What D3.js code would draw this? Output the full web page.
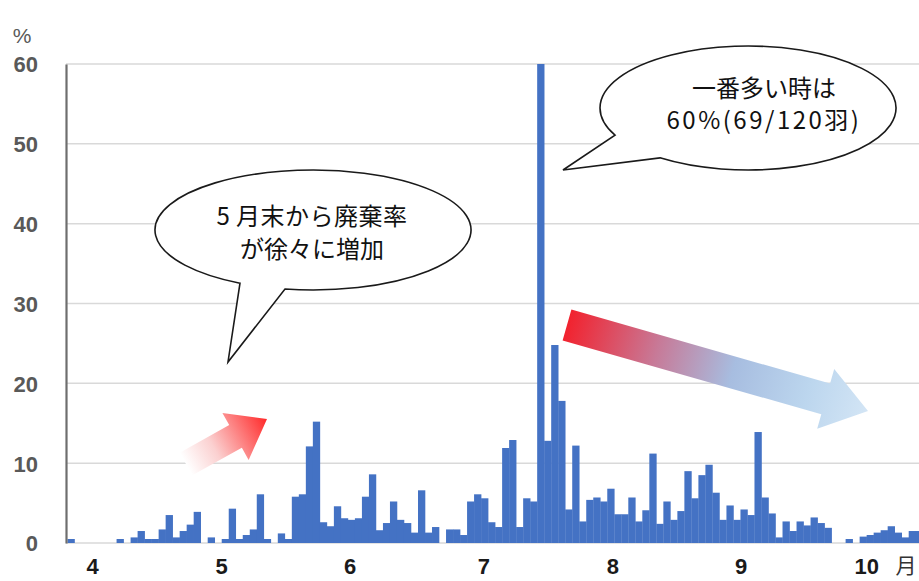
<!DOCTYPE html>
<html>
<head>
<meta charset="utf-8">
<script src="https://cdn.jsdelivr.net/npm/d3@7"></script>
<style>
  html, body { margin: 0; padding: 0; background: #fff; }
  svg { display: block; }
</style>
</head>
<body>
<svg id="chart" width="919" height="581"></svg>
<script>
// Daily disposal rate (%) from April to October
const rates = [
  0.5, 0, 0, 0, 0, 0, 0, 0.5, 0, 0.7,
  1.5, 0.5, 0.5, 1.7, 3.5, 0.7, 1.5, 2.3, 3.9, 0,
  0.7, 0, 0.5, 4.3, 0.5, 1.0, 1.7, 6.1, 0.5, 0,
  1.2, 0.5, 5.8, 6.1, 12.1, 15.2, 2.6, 2.1, 4.6, 3.1,
  2.9, 3.1, 5.8, 8.6, 1.6, 2.5, 5.2, 2.9, 2.5, 1.3,
  6.6, 1.3, 2.0, 0, 1.7, 1.7, 1.0, 5.2, 6.1, 5.6,
  2.6, 2.0, 11.9, 12.9, 2.0, 5.6, 5.2, 60, 12.8, 24.8,
  17.8, 4.2, 12.2, 2.7, 5.4, 5.7, 5.2, 6.8, 3.6, 3.6,
  5.7, 2.7, 4.1, 11.2, 2.4, 5.2, 2.9, 4.0, 9.0, 5.6,
  8.5, 9.8, 6.3, 2.9, 4.7, 2.9, 4.2, 3.5, 13.9, 5.7,
  3.7, 0.7, 2.7, 1.5, 2.7, 2.2, 3.2, 2.5, 1.9, 0,
  0, 0.5, 0, 0.8, 1.0, 1.3, 1.6, 2.1, 1.3, 0.7,
  1.5, 1.5
];

// Month labels and the bar position each one sits under
const monthLabels = ["4", "5", "6", "7", "8", "9", "10"];
const monthPositions = [3.1, 21.5, 39.8, 58.9, 77.3, 95.6, 113.5];

const yTicks = [0, 10, 20, 30, 40, 50, 60];

// Callout texts
const noteLeft = ["5 月末から廃棄率", "が徐々に増加"];
const notePeak = ["一番多い時は", "60%(69/120羽)"];

const svg = d3.select("#chart");
const W = 919, H = 581;
const plotLeft = 66, plotTop = 64, plotBottom = 543;
const barW = 7.01, barStart = 67.5;

const x = d3.scaleLinear()
  .domain([0, rates.length])
  .range([barStart, barStart + rates.length * barW]);
const y = d3.scaleLinear().domain([0, 60]).range([plotBottom, plotTop]);

const defs = svg.append("defs");

// Grid lines
svg.append("g")
  .selectAll("line")
  .data(yTicks)
  .join("line")
  .attr("x1", plotLeft).attr("x2", W)
  .attr("y1", d => y(d)).attr("y2", d => y(d))
  .attr("stroke", "#d9d9d9")
  .attr("stroke-width", 1.5);

// Bars
svg.append("g")
  .selectAll("rect")
  .data(rates)
  .join("rect")
  .attr("x", (d, i) => x(i))
  .attr("width", (d, i) => x(i + 1) - x(i) + 0.3)
  .attr("y", d => y(d))
  .attr("height", d => y(0) - y(d))
  .attr("fill", "#4472c4");

// Y axis
const yAxis = d3.axisLeft(y).tickValues(yTicks).tickSize(0).tickPadding(0);
const gy = svg.append("g").attr("transform", `translate(${plotLeft},0)`).call(yAxis);
gy.select(".domain").attr("stroke", "#6e6e6e").attr("stroke-width", 2.2);
gy.selectAll("text")
  .attr("x", -28)
  .attr("dy", "0.36em")
  .attr("font-family", "Liberation Sans, Arial, sans-serif")
  .attr("font-size", 22)
  .attr("font-weight", "bold")
  .attr("fill", "#595959");

svg.append("text")
  .attr("x", 22).attr("y", 43)
  .attr("text-anchor", "middle")
  .attr("font-family", "Liberation Sans, Arial, sans-serif")
  .attr("font-size", 21)
  .attr("fill", "#595959")
  .text("%");

// Month labels
svg.append("g")
  .selectAll("text")
  .data(monthLabels)
  .join("text")
  .attr("x", (d, i) => x(monthPositions[i] + 0.5))
  .attr("y", 574)
  .attr("text-anchor", "middle")
  .attr("font-family", "Liberation Sans, Arial, sans-serif")
  .attr("font-size", 22)
  .attr("font-weight", "bold")
  .attr("fill", "#1a1a1a")
  .text(d => d);

svg.append("text")
  .attr("x", 906).attr("y", 573)
  .attr("text-anchor", "middle")
  .attr("font-family", "Noto Sans CJK JP, sans-serif")
  .attr("font-size", 21)
  .attr("fill", "#333")
  .text("月");

// Block arrow shape, drawn along +x then rotated into place
function arrowPath(len, bodyHalf, headHalf, headLen) {
  const b = len - headLen;
  return `M0,${-bodyHalf} L${b},${-bodyHalf} L${b},${-headHalf} L${len},0 L${b},${headHalf} L${b},${bodyHalf} L0,${bodyHalf} Z`;
}
function drawArrow(id, from, to, bodyHalf, headHalf, headLen, stops) {
  const dx = to[0] - from[0], dy = to[1] - from[1];
  const len = Math.hypot(dx, dy);
  const ang = Math.atan2(dy, dx) * 180 / Math.PI;
  const g = defs.append("linearGradient").attr("id", id)
    .attr("gradientUnits", "userSpaceOnUse")
    .attr("x1", 0).attr("y1", 0).attr("x2", len).attr("y2", 0);
  stops.forEach(s => g.append("stop").attr("offset", s[0]).attr("stop-color", s[1]));
  svg.append("path")
    .attr("transform", `translate(${from[0]},${from[1]}) rotate(${ang})`)
    .attr("d", arrowPath(len, bodyHalf, headHalf, headLen))
    .attr("fill", `url(#${id})`);
}

drawArrow("gradUp", [186, 464], [267, 419], 13, 27, 36,
  [[0, "#ffffff"], [0.35, "#fbd0d0"], [1, "#ff2a2a"]]);

drawArrow("gradDown", [567, 325], [868, 411], 16, 31, 44,
  [[0, "#f2222e"], [0.3, "#c77a98"], [0.55, "#a7bde0"], [0.8, "#bcd6ee"], [1, "#d3e5f5"]]);

// Speech bubbles: ellipse with a pointed tail
function bubble(cx, cy, rx, ry, ax, bx, tip) {
  const ay = cy + ry * Math.sqrt(1 - ((ax - cx) / rx) ** 2);
  const by = cy + ry * Math.sqrt(1 - ((bx - cx) / rx) ** 2);
  const d = `M${ax},${ay} A${rx},${ry} 0 1 1 ${bx},${by} L${tip[0]},${tip[1]} Z`;
  svg.append("path")
    .attr("d", d)
    .attr("fill", "#ffffff")
    .attr("stroke", "#1a1a1a")
    .attr("stroke-width", 1.6)
    .attr("stroke-linejoin", "miter");
}

bubble(313, 230, 158, 60, 240, 285, [228, 362]);
bubble(748, 108, 148, 62, 615, 660, [563, 170]);

function noteText(lines, cx, ys, spacing) {
  svg.append("g")
    .selectAll("text")
    .data(lines)
    .join("text")
    .attr("x", cx)
    .attr("y", (d, i) => ys[i])
    .attr("text-anchor", "middle")
    .attr("font-family", "Noto Sans CJK JP, sans-serif")
    .attr("font-size", 24)
    .attr("letter-spacing", (d, i) => spacing[i])
    .attr("fill", "#111")
    .text(d => d);
}
noteText(noteLeft, 312, [225, 258], [0.5, 0]);
noteText(notePeak, 764, [97, 129], [0, 2.5]);
</script>
</body>
</html>
